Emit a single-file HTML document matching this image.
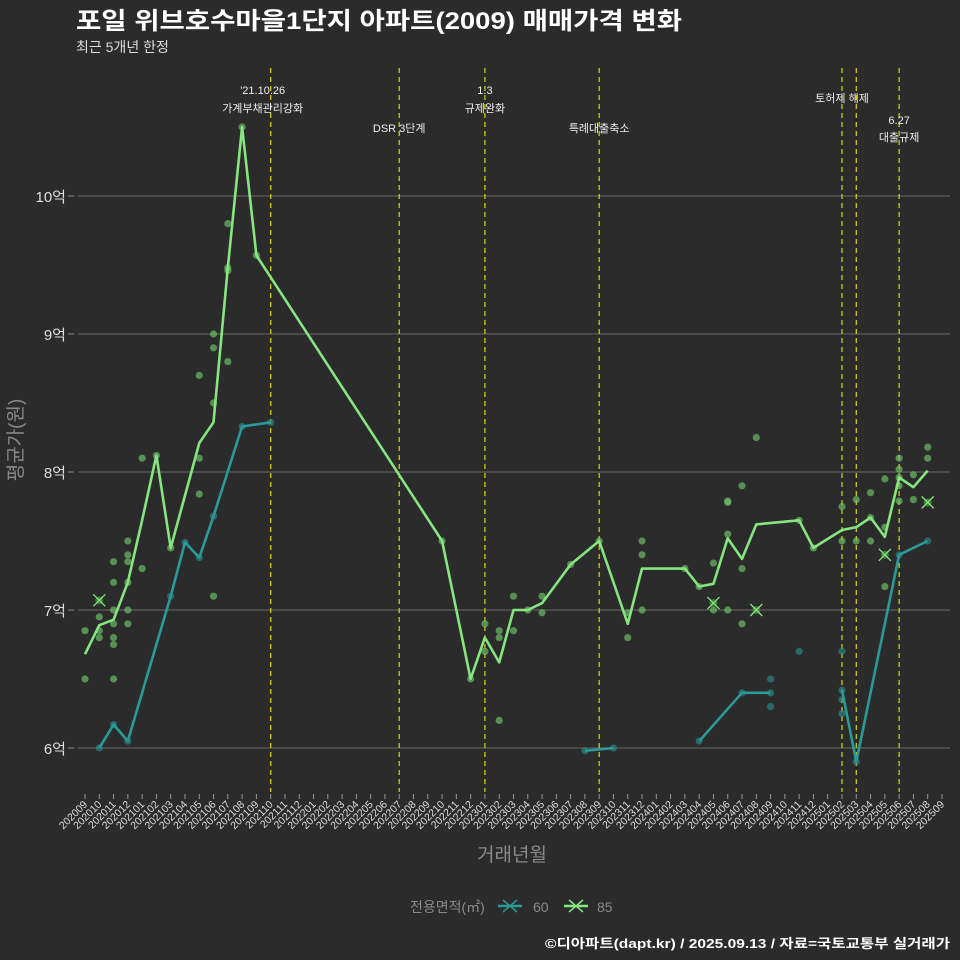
<!DOCTYPE html>
<html><head><meta charset="utf-8"><style>
html,body{margin:0;padding:0;background:#2b2b2b;}
svg{display:block;font-family:"Liberation Sans","Noto Sans CJK KR",sans-serif;}
</style></head><body>
<svg id="chart" width="960" height="960" viewBox="0 0 960 960" xmlns="http://www.w3.org/2000/svg">
<rect x="0" y="0" width="960" height="960" fill="#2b2b2b"/>
<text x="76" y="29" fill="#ffffff" font-size="24" font-weight="bold" textLength="606" lengthAdjust="spacingAndGlyphs">포일 위브호수마을1단지 아파트(2009) 매매가격 변화</text>
<text x="76" y="52" fill="#dddddd" font-size="14">최근 5개년 한정</text>
<g id="grid"></g>
<g id="events"></g>
<g id="series"></g>
<g id="xaxis"></g>
<text x="0" y="0" transform="translate(22,440) rotate(-90)" text-anchor="middle" fill="#8a8a8a" font-size="19">평균가(원)</text>
<text x="512" y="861" text-anchor="middle" fill="#8a8a8a" font-size="19">거래년월</text>
<g>
<text x="410" y="912" fill="#8a8a8a" font-size="14">전용면적(㎡)</text>
<g>
<line x1="498" y1="906" x2="522" y2="906" stroke="#2a9a98" stroke-width="2.5"/>
<path d="M503 900 L517 912 M517 900 L503 912" stroke="#2a9a98" stroke-width="1.5"/>
<text x="533" y="912" fill="#8a8a8a" font-size="14">60</text></g>
<g>
<line x1="564" y1="906" x2="588" y2="906" stroke="#86e57f" stroke-width="2.5"/>
<path d="M569 900 L583 912 M583 900 L569 912" stroke="#86e57f" stroke-width="1.5"/>
<text x="597" y="912" fill="#8a8a8a" font-size="14">85</text></g>
</g>
<text x="950" y="948" text-anchor="end" fill="#ffffff" font-size="13" font-weight="bold" textLength="405" lengthAdjust="spacingAndGlyphs">©디아파트(dapt.kr) / 2025.09.13 / 자료=국토교통부 실거래가</text>
</svg>
<script>
const months=["202009","202010","202011","202012","202101","202102","202103","202104","202105","202106","202107","202108","202109","202110","202111","202112","202201","202202","202203","202204","202205","202206","202207","202208","202209","202210","202211","202212","202301","202302","202303","202304","202305","202306","202307","202308","202309","202310","202311","202312","202401","202402","202403","202404","202405","202406","202407","202408","202409","202410","202411","202412","202501","202502","202503","202504","202505","202506","202507","202508","202509"];
const yTicks=[6,7,8,9,10];
const yTickLabels=["6억","7억","8억","9억","10억"];
// line series: [monthIndex, value(억)], null = break
const line85=[[0,6.68],[1,6.89],[2,6.93],[3,7.2],[4,7.65],[5,8.12],[6,7.45],[7,7.83],[8,8.21],[9,8.36],[10,9.48],[11,10.5],[12,9.57],[25,7.5],[27,6.5],[28,6.8],[29,6.62],[30,7.0],[31,7.0],[32,7.05],[34,7.33],[36,7.5],[38,6.9],[39,7.3],[42,7.3],[43,7.17],[44,7.19],[45,7.52],[46,7.37],[47,7.62],[50,7.65],[51,7.45],[53,7.58],[54,7.6],[55,7.67],[56,7.53],[57,7.96],[58,7.89],[59,8.01]];
const line60=[[1,6.0],[2,6.17],[3,6.05],[6,7.1],[7,7.49],[8,7.38],[9,7.68],[11,8.33],[13,8.36],null,[35,5.98],[37,6.0],null,[43,6.05],[46,6.4],[48,6.4],null,[53,6.42],[54,5.9],[57,7.4],[59,7.5]];
const pts85=[[0,6.85],[0,6.5],[1,6.95],[1,6.85],[1,6.8],[2,7.35],[2,7.2],[2,7.0],[2,6.9],[2,6.8],[2,6.75],[2,6.5],[3,7.5],[3,7.4],[3,7.35],[3,7.2],[3,7.0],[3,6.9],[4,8.1],[4,7.3],[5,8.12],[6,7.45],[8,8.1],[8,7.84],[8,8.7],[9,7.1],[9,9.0],[9,8.9],[9,8.5],[10,9.8],[10,9.48],[10,9.46],[10,8.8],[11,10.5],[12,9.57],[25,7.5],[27,6.5],[28,6.9],[28,6.7],[29,6.85],[29,6.8],[29,6.2],[30,7.1],[30,6.85],[31,7.0],[32,7.1],[32,6.98],[34,7.33],[36,7.5],[38,6.98],[38,6.8],[39,7.5],[39,7.4],[39,7.0],[42,7.3],[43,7.17],[44,7.34],[44,7.0],[45,7.79],[45,7.78],[45,7.55],[45,7.0],[46,7.9],[46,7.3],[46,6.9],[47,8.25],[50,7.65],[51,7.45],[53,7.75],[53,7.5],[54,7.8],[54,7.5],[55,7.85],[55,7.67],[55,7.5],[56,7.95],[56,7.6],[56,7.17],[57,8.1],[57,8.02],[57,7.96],[57,7.9],[57,7.79],[58,7.98],[58,7.8],[59,8.18],[59,8.1]];
const pts60=[[1,6.0],[2,6.17],[3,6.05],[6,7.1],[7,7.49],[8,7.38],[9,7.68],[11,8.33],[13,8.36],[35,5.98],[37,6.0],[43,6.05],[46,6.4],[48,6.4],[48,6.5],[48,6.3],[50,6.7],[53,6.7],[53,6.42],[53,6.35],[53,6.25],[54,5.9],[57,7.4],[59,7.5]];
const xMarks85=[[1,7.07],[44,7.05],[47,7.0],[56,7.4],[59,7.78]];
const eventMonths=[13,22,28,36,53,54,57];
const eventLabels=[["'21.10.26","가계부채관리강화"],["DSR 3단계"],["1.3","규제완화"],["특례대출축소"],["토허제 해제"],[],["6.27","대출규제"]];
const eventLabelY=[[94,112],[132],[94,112],[132],[102],[],[124,141]];

const NS="http://www.w3.org/2000/svg";
const X0=85,XS=14.283,Y6=748,YS=138;
function xs(m){return X0+XS*m;}
function ys(v){return Y6-(v-6)*YS;}
function mk(tag,attrs,parent){const e=document.createElementNS(NS,tag);for(const k in attrs)e.setAttribute(k,attrs[k]);parent.appendChild(e);return e;}
const grid=document.getElementById('grid');
yTicks.forEach((t,i)=>{
  const l=mk('line',{x1:78,x2:950,y1:ys(t),y2:ys(t),stroke:'#6a6a6a','stroke-width':1},grid);
  
  
  const tk=mk('line',{x1:68,x2:74,y1:ys(t),y2:ys(t),stroke:'#888'},grid);
  
  
  const tx=mk('text',{x:66,y:ys(t)+6,'text-anchor':'end',fill:'#dddddd','font-size':15},grid);
  tx.textContent=yTickLabels[i];
  
  
});
const ev=document.getElementById('events');
eventMonths.forEach((m,i)=>{
  const l=mk('line',{x1:xs(m),x2:xs(m),y1:68,y2:792,stroke:'#d8d800','stroke-width':1.2,'stroke-dasharray':'5,4'},ev);
  
  
  eventLabels[i].forEach((s,j)=>{
    const t=mk('text',{x:xs(m)-(i==0?8:0),y:eventLabelY[i][j],'text-anchor':'middle',fill:'#eeeeee','font-size':11},ev);
    t.textContent=s;
    
    
  });
});
const ser=document.getElementById('series');
function drawLine(data,color,name){
  let d='',pen=false;
  data.forEach(p=>{if(!p){pen=false;return;}d+=(pen?'L':'M')+xs(p[0]).toFixed(1)+' '+ys(p[1]).toFixed(1)+' ';pen=true;});
  const e=mk('path',{d:d,fill:'none',stroke:color,'stroke-width':2.6,'stroke-linejoin':'round'},ser);
  
  
}
function drawPts(data,color,name){
  data.forEach(p=>{
    const c=mk('circle',{cx:xs(p[0]),cy:ys(p[1]),r:3.6,fill:color,'fill-opacity':0.65},ser);
    
    
  });
}
drawPts(pts85,'#6fc46a','point-85');
drawPts(pts60,'#2a8a8a','point-60');
drawLine(line60,'#2a9a98','line-60');
drawLine(line85,'#86e57f','line-85');
xMarks85.forEach(p=>{
  const x=xs(p[0]),y=ys(p[1]);
  const c=mk('circle',{cx:x,cy:y,r:4,fill:'#3f7a3c'},ser);
  
  
  const g=mk('path',{d:`M${x-6} ${y-6}L${x+6} ${y+6}M${x+6} ${y-6}L${x-6} ${y+6}`,stroke:'#86e57f','stroke-width':1.3,fill:'none'},ser);
  
  
});
const xa=document.getElementById('xaxis');
months.forEach((m,i)=>{
  const x=xs(i);
  const tk=mk('line',{x1:x,x2:x,y1:794,y2:799,stroke:'#999'},xa);
  
  
  const t=mk('text',{x:0,y:0,transform:`translate(${x+3},${805}) rotate(-45)`,'text-anchor':'end',fill:'#dddddd','font-size':10.5},xa);
  t.textContent=m;
  
  
});
</script>
</body></html>
